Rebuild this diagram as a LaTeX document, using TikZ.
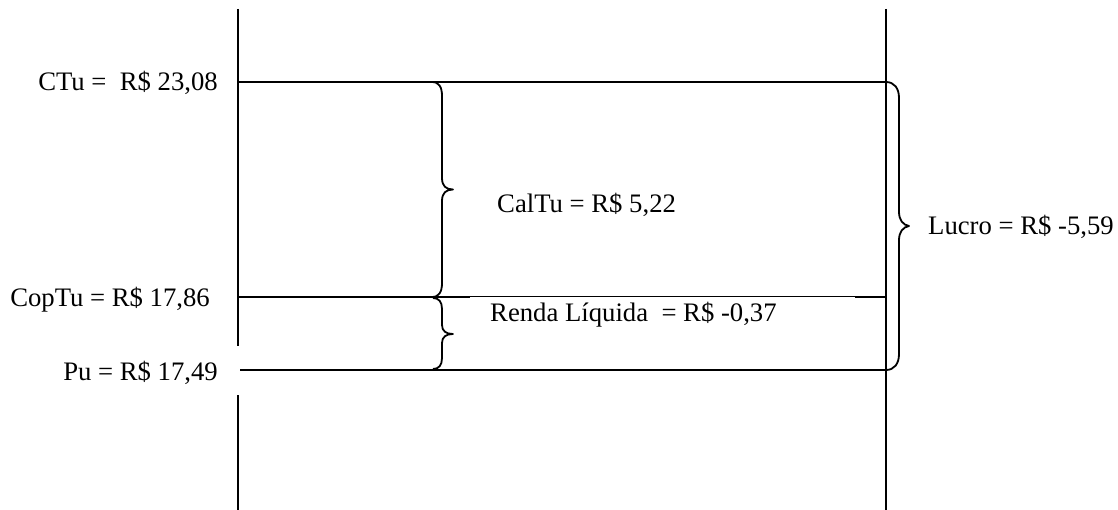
\documentclass[tikz,border=0pt]{standalone}
\usepackage{fontspec}
\setmainfont{Liberation Serif}
\begin{document}
\begin{tikzpicture}[x=1pt,y=-1pt,
  ln/.style={line width=1.8pt,line cap=butt},
  thin/.style={line width=1pt},
  br/.style={line width=1.8pt,line join=round},
  lbl/.style={inner sep=0pt,font=\fontsize{26.7}{32}\selectfont}]
\useasboundingbox (0,0) rectangle (1118,510);
% level coordinates
\coordinate (L1t) at (238,9);
\coordinate (L1a) at (238,346);
\coordinate (L1b) at (238,395);
\coordinate (L1e) at (238,510);
\coordinate (R1t) at (886,9);
\coordinate (R1e) at (886,510);
\coordinate (CTl) at (238,82);
\coordinate (CTr) at (886,82);
\coordinate (COl) at (238,297);
\coordinate (COm1) at (470,297);
\coordinate (COm2) at (855,297);
\coordinate (COr) at (886,297);
\coordinate (PUl) at (240,370);
\coordinate (PUr) at (886,370);
% axes
\draw[ln] (L1t) -- (L1a);
\draw[ln] (L1b) -- (L1e);
\draw[ln] (R1t) -- (R1e);
% levels
\draw[ln] (CTl) -- (CTr);
\draw[ln] (COl) -- (COm1);
\draw[thin] (COm1) -- (COm2);
\draw[ln] (COm2) -- (COr);
\draw[ln] (PUl) -- (PUr);
% braces
\draw[br] (432,82) .. controls (439,82) and (442,87) .. (442,96)
  -- (442,178) .. controls (442,186) and (446,189.5) .. (453,189.5)
  .. controls (446,189.5) and (442,193) .. (442,201)
  -- (442,283) .. controls (442,292) and (439,297) .. (432,297);
\draw[br] (433,298) .. controls (439,298) and (442,302) .. (442,309)
  -- (442,325) .. controls (442,331) and (446,334) .. (453,334)
  .. controls (446,334) and (442,337) .. (442,343)
  -- (442,358) .. controls (442,365) and (439,369) .. (433,369);
\draw[br] (886,82) .. controls (894,82) and (899,88) .. (899,98)
  -- (899,212) .. controls (899,220) and (903,225) .. (909,226)
  .. controls (903,227) and (899,232) .. (899,240)
  -- (899,354) .. controls (899,364) and (894,370) .. (886,370);
% labels
\node[lbl,anchor=base east] (ctu) at (218,91) {CTu =\ \ R\$ 23,08};
\node[lbl,anchor=base east] (coptu) at (210,306) {CopTu = R\$ 17,86};
\node[lbl,anchor=base east] (pu) at (218,380) {Pu = R\$ 17,49};
\node[lbl,anchor=base west] (caltu) at (497,213) {CalTu = R\$ 5,22};
\node[lbl,anchor=base west] (renda) at (490,322) {Renda Líquida\ \ = R\$ -0,37};
\node[lbl,anchor=base west] (lucro) at (928,235) {Lucro = R\$ -5,59};
\end{tikzpicture}
\end{document}
